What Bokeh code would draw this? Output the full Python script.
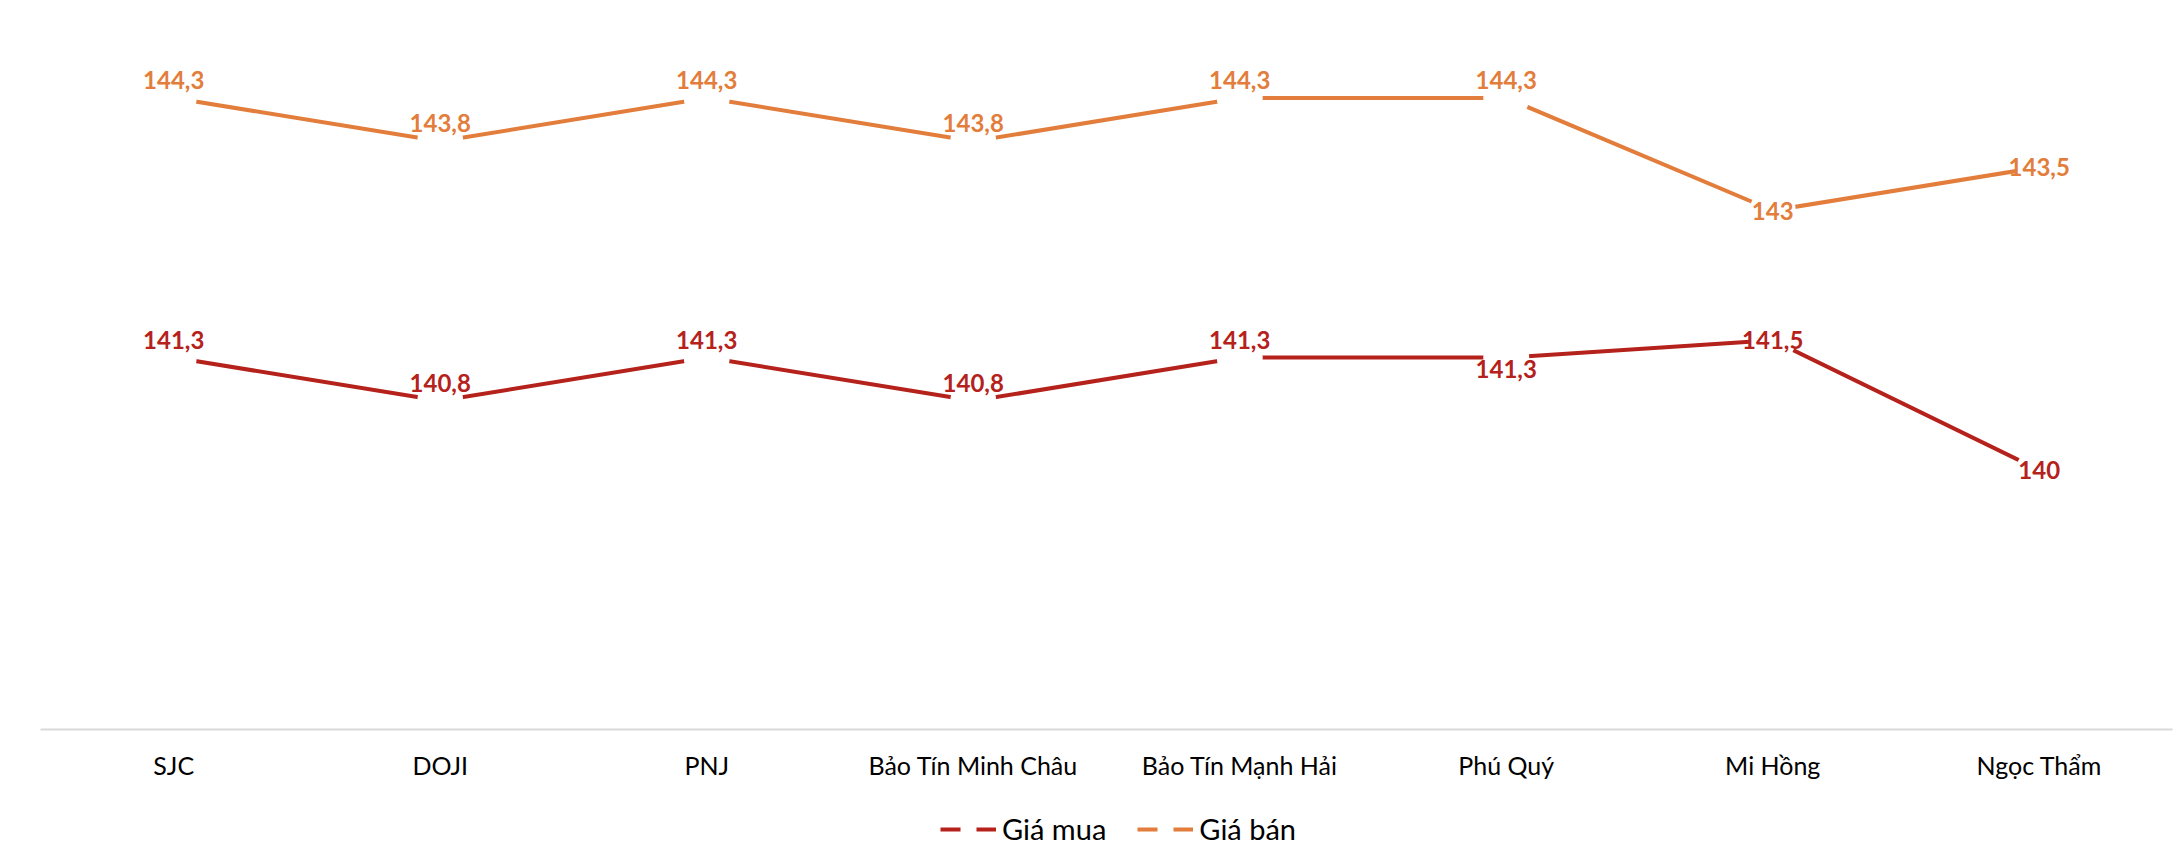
from bokeh.plotting import figure
from bokeh.layouts import column
from bokeh.models import Range1d, FactorRange, ColumnDataSource, Legend, LegendItem
from bokeh.core.properties import value
from bokeh.embed import file_html
from bokeh.resources import INLINE

categories = ["SJC", "DOJI", "PNJ", "Bảo Tín Minh Châu", "Bảo Tín Mạnh Hải",
              "Phú Quý", "Mi Hồng", "Ngọc Thẩm"]
gia_mua = [141.3, 140.8, 141.3, 140.8, 141.3, 141.3, 141.5, 140.0]
gia_ban = [144.3, 143.8, 144.3, 143.8, 144.3, 144.3, 143.0, 143.5]
series_names = ["Giá mua", "Giá bán"]

# label placement per point (style)
mua_pos = ["above", "above", "above", "above", "above", "below", "center", "center"]
ban_pos = ["above", "above", "above", "above", "above", "above", "center", "center"]

RED = "#B5211B"
ORANGE = "#E27D3B"
FONT = "Lato"
OFF = {"above": -18, "below": 11, "center": 0}
W = 2184
H_MAIN = 800
H_LEG = 52


def fmt(v):
    return f"{v:g}".replace(".", ",")


p = figure(width=W, height=H_MAIN, output_backend="svg", toolbar_location=None,
           x_range=FactorRange(factors=categories, range_padding=0),
           y_range=Range1d(137, 145))
p.min_border_left = 40
p.min_border_right = 12
p.min_border_top = 37
p.min_border_bottom = 71
p.outline_line_color = None
p.background_fill_color = "white"
p.border_fill_color = "white"
p.xgrid.visible = False
p.ygrid.visible = False
p.yaxis.visible = False

xa = p.xaxis[0]
xa.axis_line_color = "#D9D9D9"
xa.axis_line_width = 2
xa.major_tick_line_color = None
xa.minor_tick_line_color = None
xa.major_label_text_font = FONT
xa.major_label_text_font_size = "25px"
xa.major_label_text_color = "#000000"
xa.major_label_standoff = 14

for vals, pos, color in [(gia_mua, mua_pos, RED), (gia_ban, ban_pos, ORANGE)]:
    src = ColumnDataSource(dict(x=categories, y=vals,
                                t=[fmt(v) for v in vals],
                                off=[OFF[q] for q in pos]))
    p.line("x", "y", source=src, line_color=color, line_width=4)
    p.scatter("x", "y", source=src, size=46, fill_color="white", line_color=None)
    p.text("x", "y", text="t", source=src, y_offset="off",
           text_align="center", text_baseline="middle",
           text_font=value(FONT), text_font_style="bold",
           text_font_size="24px", text_color=color)

# small legend-only figure under the chart
lg = figure(width=W, height=H_LEG, output_backend="svg", toolbar_location=None,
            x_range=Range1d(0, 1), y_range=Range1d(0, 1))
lg.min_border_left = 0
lg.min_border_right = 0
lg.min_border_top = 0
lg.min_border_bottom = 0
lg.outline_line_color = None
lg.xaxis.visible = False
lg.yaxis.visible = False
lg.xgrid.visible = False
lg.ygrid.visible = False

r_mua = lg.line(x=[0.5, 0.5], y=[float("nan"), float("nan")], line_color=RED,
                line_width=4, line_dash="20 16")
r_ban = lg.line(x=[0.5, 0.5], y=[float("nan"), float("nan")], line_color=ORANGE,
                line_width=4, line_dash="20 16")
legend = Legend(items=[LegendItem(label=series_names[0], renderers=[r_mua]),
                       LegendItem(label=series_names[1], renderers=[r_ban])],
                orientation="horizontal", location=(900, 6))
legend.glyph_width = 56
legend.glyph_height = 20
legend.label_standoff = 6
legend.spacing = 31
legend.label_text_font = FONT
legend.label_text_font_size = "29px"
legend.label_text_color = "#000000"
legend.border_line_color = None
legend.background_fill_alpha = 0
legend.margin = 0
legend.padding = 0
lg.add_layout(legend, "center")

page = column(p, lg, spacing=0)
open("out.html", "w").write(file_html(page, INLINE))
